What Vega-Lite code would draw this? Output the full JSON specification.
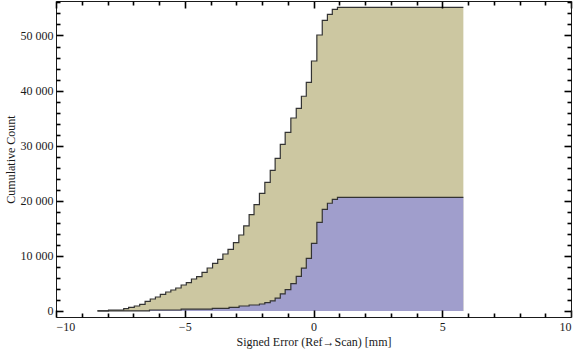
{
  "$schema": "https://vega.github.io/schema/vega-lite/v6.json",
  "width": 515,
  "height": 316,
  "autosize": {"type": "none"},
  "padding": {"left": 56, "top": 1, "right": 5, "bottom": 40},
  "background": "white",
  "config": {
    "view": {"stroke": null},
    "axis": {
      "labelFont": "Liberation Serif",
      "titleFont": "Liberation Serif",
      "labelFontSize": 12,
      "titleFontSize": 12,
      "titleFontWeight": "normal",
      "labelColor": "#1a1a1a",
      "titleColor": "#1a1a1a",
      "domainColor": "#1a1a1a",
      "domainWidth": 1,
      "grid": false
    }
  },
  "datasets": {
    "outer": [
      {"x": -8.39, "count": 20},
      {"x": -7.96, "count": 180},
      {"x": -7.37, "count": 420},
      {"x": -7.18, "count": 670},
      {"x": -6.96, "count": 910},
      {"x": -6.75, "count": 1210},
      {"x": -6.54, "count": 1750},
      {"x": -6.34, "count": 2180},
      {"x": -6.14, "count": 2540},
      {"x": -5.95, "count": 3030},
      {"x": -5.74, "count": 3450},
      {"x": -5.54, "count": 3810},
      {"x": -5.35, "count": 4170},
      {"x": -5.14, "count": 4720},
      {"x": -4.94, "count": 5140},
      {"x": -4.74, "count": 5810},
      {"x": -4.54, "count": 6230},
      {"x": -4.33, "count": 7020},
      {"x": -4.13, "count": 7800},
      {"x": -3.92, "count": 8650},
      {"x": -3.72, "count": 9380},
      {"x": -3.52, "count": 10340},
      {"x": -3.32, "count": 11190},
      {"x": -3.11, "count": 12400},
      {"x": -2.9, "count": 13790},
      {"x": -2.71, "count": 15430},
      {"x": -2.5, "count": 17480},
      {"x": -2.31, "count": 19300},
      {"x": -2.1, "count": 21360},
      {"x": -1.89, "count": 23350},
      {"x": -1.68, "count": 25530},
      {"x": -1.49, "count": 27710},
      {"x": -1.29, "count": 30250},
      {"x": -1.1, "count": 32430},
      {"x": -0.88, "count": 35030},
      {"x": -0.67, "count": 36790},
      {"x": -0.47, "count": 38970},
      {"x": -0.28, "count": 41500},
      {"x": -0.08, "count": 45370},
      {"x": 0.13, "count": 50090},
      {"x": 0.34, "count": 52760},
      {"x": 0.54, "count": 53850},
      {"x": 0.73, "count": 54750},
      {"x": 0.93, "count": 55120},
      {"x": 5.82, "count": 55120}
    ],
    "inner": [
      {"x": -8.39, "count": 10},
      {"x": -6.37, "count": 180},
      {"x": -5.14, "count": 330},
      {"x": -3.93, "count": 490},
      {"x": -3.28, "count": 670},
      {"x": -2.89, "count": 910},
      {"x": -2.5, "count": 1090},
      {"x": -2.1, "count": 1270},
      {"x": -1.89, "count": 1510},
      {"x": -1.68, "count": 1850},
      {"x": -1.49, "count": 2330},
      {"x": -1.29, "count": 3110},
      {"x": -1.1, "count": 3870},
      {"x": -0.88, "count": 4950},
      {"x": -0.67, "count": 6290},
      {"x": -0.47, "count": 7770},
      {"x": -0.28, "count": 9560},
      {"x": -0.08, "count": 12290},
      {"x": 0.13, "count": 16070},
      {"x": 0.34, "count": 18460},
      {"x": 0.54, "count": 19550},
      {"x": 0.73, "count": 20270},
      {"x": 0.93, "count": 20630},
      {"x": 5.82, "count": 20630}
    ]
  },
  "layer": [
    {
      "data": {"name": "outer"},
      "mark": {"type": "area", "interpolate": "step-after", "color": "#CCC7A1", "opacity": 1},
      "encoding": {
        "x": {"field": "x", "type": "quantitative", "scale": {"domain": [-10, 10], "nice": false, "zero": false},
          "axis": {"orient": "bottom", "values": [-10, -5, 0, 5, 10], "ticks": false, "labelPadding": 4, "domain": true, "title": "Signed Error (Ref→Scan) [mm]", "titlePadding": 4}},
        "y": {"field": "count", "type": "quantitative", "scale": {"domain": [-1090, 56260], "nice": false, "zero": false},
          "axis": {"orient": "left", "values": [0, 10000, 20000, 30000, 40000, 50000], "ticks": false, "labelPadding": 3, "domain": true, "title": "Cumulative Count", "titlePadding": 3,
            "labelExpr": "replace(format(datum.value, ','), ',', ' ')"}}
      }
    },
    {
      "data": {"name": "inner"},
      "mark": {"type": "area", "interpolate": "step-after", "color": "#A09ECC", "opacity": 1},
      "encoding": {
        "x": {"field": "x", "type": "quantitative", "axis": null},
        "y": {"field": "count", "type": "quantitative", "axis": null}
      }
    },
    {
      "data": {"name": "outer"},
      "mark": {"type": "line", "interpolate": "step-after", "color": "#333333", "strokeWidth": 1.2},
      "encoding": {
        "x": {"field": "x", "type": "quantitative", "axis": null},
        "y": {"field": "count", "type": "quantitative", "axis": null}
      }
    },
    {
      "data": {"name": "inner"},
      "mark": {"type": "line", "interpolate": "step-after", "color": "#333333", "strokeWidth": 1.2},
      "encoding": {
        "x": {"field": "x", "type": "quantitative", "axis": null},
        "y": {"field": "count", "type": "quantitative", "axis": null}
      }
    },
    {
      "data": {"name": "inner"},
      "mark": {"type": "point", "opacity": 0},
      "encoding": {
        "x": {"field": "x", "type": "quantitative",
          "axis": {"orient": "bottom", "values": [-10, -5, 0, 5, 10], "ticks": true, "labels": false, "domain": false, "tickSize": -7, "tickWidth": 1.6, "tickColor": "#000000", "title": null, "zindex": 3}},
        "y": {"field": "count", "type": "quantitative",
          "axis": {"orient": "left", "values": [0, 10000, 20000, 30000, 40000, 50000], "ticks": true, "labels": false, "domain": false, "tickSize": -7, "tickWidth": 1.6, "tickColor": "#000000", "title": null, "zindex": 3}}
      }
    },
    {
      "data": {"name": "inner"},
      "mark": {"type": "point", "opacity": 0},
      "encoding": {
        "x": {"field": "x", "type": "quantitative",
          "axis": {"orient": "bottom", "values": [-9, -8, -7, -6, -4, -3, -2, -1, 1, 2, 3, 4, 6, 7, 8, 9], "ticks": true, "labels": false, "domain": false, "tickSize": -4, "tickWidth": 1.6, "tickColor": "#000000", "title": null, "zindex": 3}},
        "y": {"field": "count", "type": "quantitative",
          "axis": {"orient": "left", "values": [2000, 4000, 6000, 8000, 12000, 14000, 16000, 18000, 22000, 24000, 26000, 28000, 32000, 34000, 36000, 38000, 42000, 44000, 46000, 48000, 52000, 54000, 56000], "ticks": true, "labels": false, "domain": false, "tickSize": -4, "tickWidth": 1.6, "tickColor": "#000000", "title": null, "zindex": 3}}
      }
    },
    {
      "data": {"name": "inner"},
      "mark": {"type": "point", "opacity": 0},
      "encoding": {
        "x": {"field": "x", "type": "quantitative",
          "axis": {"orient": "top", "values": [-10, -5, 0, 5, 10], "ticks": true, "labels": false, "domain": true, "tickSize": -7, "tickWidth": 1.6, "tickColor": "#000000", "title": null, "zindex": 3}},
        "y": {"field": "count", "type": "quantitative",
          "axis": {"orient": "right", "values": [0, 10000, 20000, 30000, 40000, 50000], "ticks": true, "labels": false, "domain": true, "tickSize": -7, "tickWidth": 1.6, "tickColor": "#000000", "title": null, "zindex": 3}}
      }
    },
    {
      "data": {"name": "inner"},
      "mark": {"type": "point", "opacity": 0},
      "encoding": {
        "x": {"field": "x", "type": "quantitative",
          "axis": {"orient": "top", "values": [-9, -8, -7, -6, -4, -3, -2, -1, 1, 2, 3, 4, 6, 7, 8, 9], "ticks": true, "labels": false, "domain": false, "tickSize": -4, "tickWidth": 1.6, "tickColor": "#000000", "title": null, "zindex": 3}},
        "y": {"field": "count", "type": "quantitative",
          "axis": {"orient": "right", "values": [2000, 4000, 6000, 8000, 12000, 14000, 16000, 18000, 22000, 24000, 26000, 28000, 32000, 34000, 36000, 38000, 42000, 44000, 46000, 48000, 52000, 54000, 56000], "ticks": true, "labels": false, "domain": false, "tickSize": -4, "tickWidth": 1.6, "tickColor": "#000000", "title": null, "zindex": 3}}
      }
    }
  ],
  "resolve": {"axis": {"x": "independent", "y": "independent"}}
}
